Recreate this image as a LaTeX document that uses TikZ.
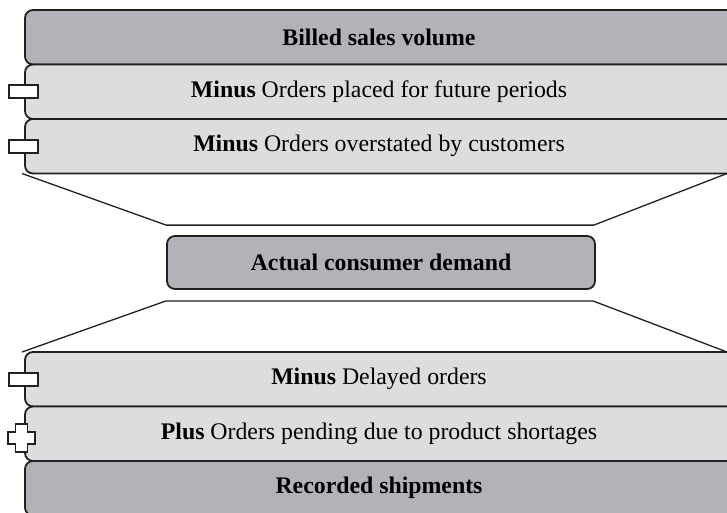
\documentclass[tikz,border=0pt]{standalone}
\usepackage{fontspec}
\setmainfont{Liberation Serif}
\usepackage{tikz}
\usetikzlibrary{positioning}
\definecolor{edge}{RGB}{35,31,32}
\definecolor{darkbar}{RGB}{178,179,184}
\definecolor{lightbar}{RGB}{220,221,223}
\tikzset{
  font={\fontsize{23.8pt}{26pt}\selectfont}}
\tikzset{
  bar/.style={draw=edge, line width=1.8pt, rounded corners=8pt, inner sep=0pt,
    outer sep=0pt, minimum height=54.5pt, anchor=west},
  sumbar/.style={bar, fill=darkbar, font={\fontsize{23.8pt}{26pt}\selectfont\bfseries}},
  stepbar/.style={bar, fill=lightbar},
  tab/.style={draw=edge, fill=white, line width=1.8pt, inner sep=0pt,
    minimum width=29pt, minimum height=13pt},
  funnel/.style={draw=edge, line width=1.3pt, line join=round}}
% text sits over the visible 708pt, the rest of the bar runs off the page
\newcommand{\bartext}[1]{\makebox[708pt]{#1}\hspace*{40pt}}

\begin{document}
\begin{tikzpicture}[x=1pt,y=-1pt]
\useasboundingbox (0,0) rectangle (727,513);
% upper stack
\node[sumbar] (billed) at (25,37.25) {\bartext{Billed sales volume}};
\node[stepbar, below=0pt of billed] (future) {\bartext{\textbf{Minus} Orders placed for future periods}};
\node[stepbar, below=0pt of future] (overstated) {\bartext{\textbf{Minus} Orders overstated by customers}};
\node[tab] (tabfuture) at ([xshift=-1.5pt]future.west) {};
\node[tab] (tabover) at ([xshift=-1.5pt]overstated.west) {};
% middle box
\node[draw=edge, fill=darkbar, line width=1.8pt, rounded corners=8pt,
  minimum width=428pt, minimum height=53pt, inner sep=0pt,
  font={\fontsize{23.8pt}{26pt}\selectfont\bfseries}] (demand) at (381,262.5) {Actual consumer demand};
% funnels
\coordinate (topr) at (727,173.5);
\coordinate (botr) at (727,352);
\draw[funnel] ([xshift=-3pt]overstated.south west) -- ([yshift=10pt]demand.north west)
  -- ([yshift=10pt,xshift=-2pt]demand.north east) -- (topr);
% lower stack
\node[stepbar] (delayed) at (25,379.25) {\bartext{\textbf{Minus} Delayed orders}};
\node[stepbar, below=0pt of delayed] (pending) {\bartext{\textbf{Plus} Orders pending due to product shortages}};
\node[sumbar, below=0pt of pending] (recorded) {\bartext{Recorded shipments}};
\node[tab] (tabdelay) at ([xshift=-1.5pt]delayed.west) {};
\draw[funnel] ([xshift=-3pt]delayed.north west) -- ([yshift=-11pt]demand.south west)
  -- ([yshift=-11pt,xshift=-3pt]demand.south east) -- (botr);
% plus sign
\coordinate (plusc) at ([xshift=-3.5pt,yshift=-4pt]pending.west);
\draw[edge, fill=white, line width=1.8pt] (plusc) ++(-6,-14) -- ++(12,0) -- ++(0,8)
  -- ++(7.5,0) -- ++(0,12) -- ++(-7.5,0) -- ++(0,8) -- ++(-12,0) -- ++(0,-8)
  -- ++(-7.5,0) -- ++(0,-12) -- ++(7.5,0) -- cycle;
\end{tikzpicture}
\end{document}
